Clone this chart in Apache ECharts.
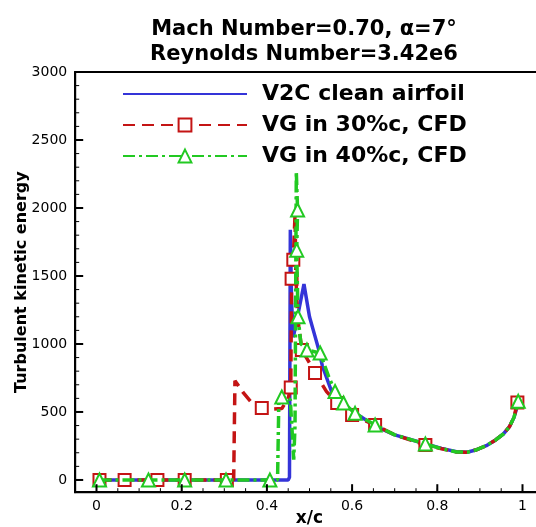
<!DOCTYPE html>
<html>
<head>
<meta charset="utf-8">
<script src="https://cdn.jsdelivr.net/npm/echarts@6/dist/echarts.min.js"></script>
<style>html,body{margin:0;padding:0;background:#fff}#c{width:536px;height:527px}</style>
</head>
<body>
<div id="c"></div>
<script>
// ---- data ----
var titleLines = ['Mach Number=0.70, \u03b1=7\u00b0', 'Reynolds Number=3.42e6'];
var seriesNames = ['V2C clean airfoil', 'VG in 30%c, CFD', 'VG in 40%c, CFD'];
var xTicks = [0, 0.2, 0.4, 0.6, 0.8, 1];
var yTicks = [0, 500, 1000, 1500, 2000, 2500, 3000];
// V2C clean airfoil [x/c, k]
var clean = [[0,0],[0.1,0],[0.2,0],[0.3,0],[0.4,0],[0.45,0],[0.453,20],[0.455,1840],[0.458,1300],[0.462,1050],[0.475,1250],[0.487,1440],[0.5,1200],[0.509,1100],[0.522,955],[0.53,840],[0.553,640],[0.58,550],[0.608,490],[0.655,395],[0.7,332],[0.765,272],[0.81,232],[0.845,207],[0.87,204],[0.89,220],[0.915,252],[0.937,294],[0.955,338],[0.969,390],[0.98,460],[0.99,566]];
// VG in 30%c [x/c, k, marker(1/0)]
var vg30 = [[0.007,0,1],[0.066,0,1],[0.143,0,1],[0.207,0,1],[0.306,0,1],[0.322,0,0],[0.325,730,0],[0.345,640,0],[0.365,566,0],[0.388,530,1],[0.41,520,0],[0.435,525,0],[0.45,600,0],[0.456,680,1],[0.458,1480,1],[0.462,1620,1],[0.466,1950,0],[0.468,1500,0],[0.472,1200,0],[0.482,955,1],[0.5,860,0],[0.513,787,1],[0.54,650,0],[0.565,566,1],[0.6,478,1],[0.654,404,1],[0.7,332,0],[0.772,258,1],[0.81,230,0],[0.845,206,0],[0.87,204,0],[0.89,220,0],[0.915,252,0],[0.937,294,0],[0.955,338,0],[0.969,390,0],[0.98,460,0],[0.988,570,1]];
// VG in 40%c [x/c, k, marker(1/0)]
var vg40 = [[0.007,0,1],[0.122,0,1],[0.207,0,1],[0.304,0,1],[0.407,0,1],[0.425,0,0],[0.428,580,0],[0.435,610,1],[0.455,590,0],[0.463,150,0],[0.466,400,0],[0.469,2270,0],[0.472,1985,1],[0.47,1690,1],[0.473,1200,1],[0.48,1000,0],[0.494,956,1],[0.525,934,1],[0.545,760,0],[0.56,650,1],[0.58,566,1],[0.607,490,1],[0.654,404,1],[0.7,332,0],[0.772,265,1],[0.81,230,0],[0.845,206,0],[0.87,204,0],[0.89,220,0],[0.915,252,0],[0.937,294,0],[0.955,338,0],[0.969,390,0],[0.98,460,0],[0.99,578,1]];

var xMinor = [], yMinor = [];
for (var i = 0; i <= 20; i++) xMinor.push(+(i * 0.05).toFixed(2));
for (var j = 0; j <= 30; j++) yMinor.push(j * 100);

var blue = '#3434d8', red = '#c41414', green = '#22c922';
var FONT = '"DejaVu Sans", sans-serif';
var XMIN = -0.05, XMAX = 1.05, YMIN = -90, YMAX = 3000;
var G = { left: 75.2, top: 72, width: 468.6, height: 420.2 };

function marked(arr, sym) {
  return arr.map(function (p) {
    return p[2] ? { value: [p[0], p[1]], symbol: sym } : { value: [p[0], p[1]], symbol: 'none' };
  });
}

var chart = echarts.init(document.getElementById('c'), null, { renderer: 'canvas' });
var axisCommon = { color: '#000', fontFamily: FONT, fontSize: 14 };
chart.setOption({
  animation: false,
  backgroundColor: '#fff',
  title: {
    text: titleLines.join('\n'),
    left: 299, top: 12, textAlign: 'center',
    textStyle: { fontFamily: FONT, fontWeight: 'bold', fontSize: 21, lineHeight: 25, color: '#000' }
  },
  legend: {
    orient: 'vertical', left: 117, top: 76,
    itemWidth: 124, itemHeight: 16, itemGap: 5,
    data: seriesNames,
    textStyle: { fontFamily: FONT, fontWeight: 'bold', fontSize: 22, lineHeight: 26, color: '#000', padding: [0, 0, 0, 10] }
  },
  grid: Object.assign({ show: true, borderColor: '#000', borderWidth: 2, containLabel: false, outerBoundsMode: 'none' }, G),
  xAxis: {
    type: 'value', min: XMIN, max: XMAX,
    name: 'x/c', nameLocation: 'middle', nameGap: 18, nameMoveOverlap: false,
    nameTextStyle: { fontFamily: FONT, fontWeight: 'bold', fontSize: 17, color: '#000' },
    axisLine: { show: true, onZero: false, lineStyle: { color: '#000', width: 2 } },
    axisTick: { show: false },
    axisLabel: Object.assign({ margin: 7, customValues: xTicks, formatter: function (v) { return String(v); } }, axisCommon),
    splitLine: { show: false }
  },
  yAxis: {
    type: 'value', min: YMIN, max: YMAX,
    name: 'Turbulent kinetic energy', nameLocation: 'middle', nameGap: 45, nameRotate: 90, nameMoveOverlap: false,
    nameTextStyle: { fontFamily: FONT, fontWeight: 'bold', fontSize: 16, color: '#000' },
    axisLine: { show: true, onZero: false, lineStyle: { color: '#000', width: 2 } },
    axisTick: { show: false },
    axisLabel: Object.assign({ margin: 8, customValues: yTicks, formatter: function (v) { return String(v); } }, axisCommon),
    splitLine: { show: false }
  },
  series: [{
    name: seriesNames[0], type: 'line', showSymbol: false, symbol: 'none',
    data: clean, lineStyle: { color: blue, width: 3.5 }, itemStyle: { color: 'rgba(0,0,0,0)', borderWidth: 0 }, z: 2
  }, {
    name: seriesNames[1], type: 'line', symbol: 'rect', symbolSize: 12, showSymbol: true,
    data: marked(vg30, 'rect'),
    lineStyle: { color: red, width: 3.5, type: [12, 7] },
    itemStyle: { color: '#fff', borderColor: red, borderWidth: 2 }, z: 3
  }, {
    name: seriesNames[2], type: 'line', symbol: 'triangle', symbolSize: 13, showSymbol: true,
    data: marked(vg40, 'triangle'),
    lineStyle: { color: green, width: 3.5, type: [12, 4, 3, 4] },
    itemStyle: { color: '#fff', borderColor: green, borderWidth: 2 }, z: 4
  }]
});

// Inside tick marks: positions converted through the chart's own axes.
function tickLine(val, isX, major) {
  var len = major ? 8 : 4;
  var p = chart.convertToPixel({ gridIndex: 0 }, isX ? [val, YMIN] : [XMIN, val]);
  return {
    type: 'line', silent: true, z: 100,
    shape: isX ? { x1: p[0], y1: p[1], x2: p[0], y2: p[1] - len }
               : { x1: p[0], y1: p[1], x2: p[0] + len, y2: p[1] },
    style: { stroke: '#000', lineWidth: major ? 2 : 1 }
  };
}
var tickEls = [];
xMinor.forEach(function (v) { tickEls.push(tickLine(v, true, false)); });
xTicks.forEach(function (v) { tickEls.push(tickLine(v, true, true)); });
yMinor.forEach(function (v) { tickEls.push(tickLine(v, false, false)); });
yTicks.forEach(function (v) { tickEls.push(tickLine(v, false, true)); });
chart.setOption({ graphic: { elements: tickEls } });
</script>
</body>
</html>
